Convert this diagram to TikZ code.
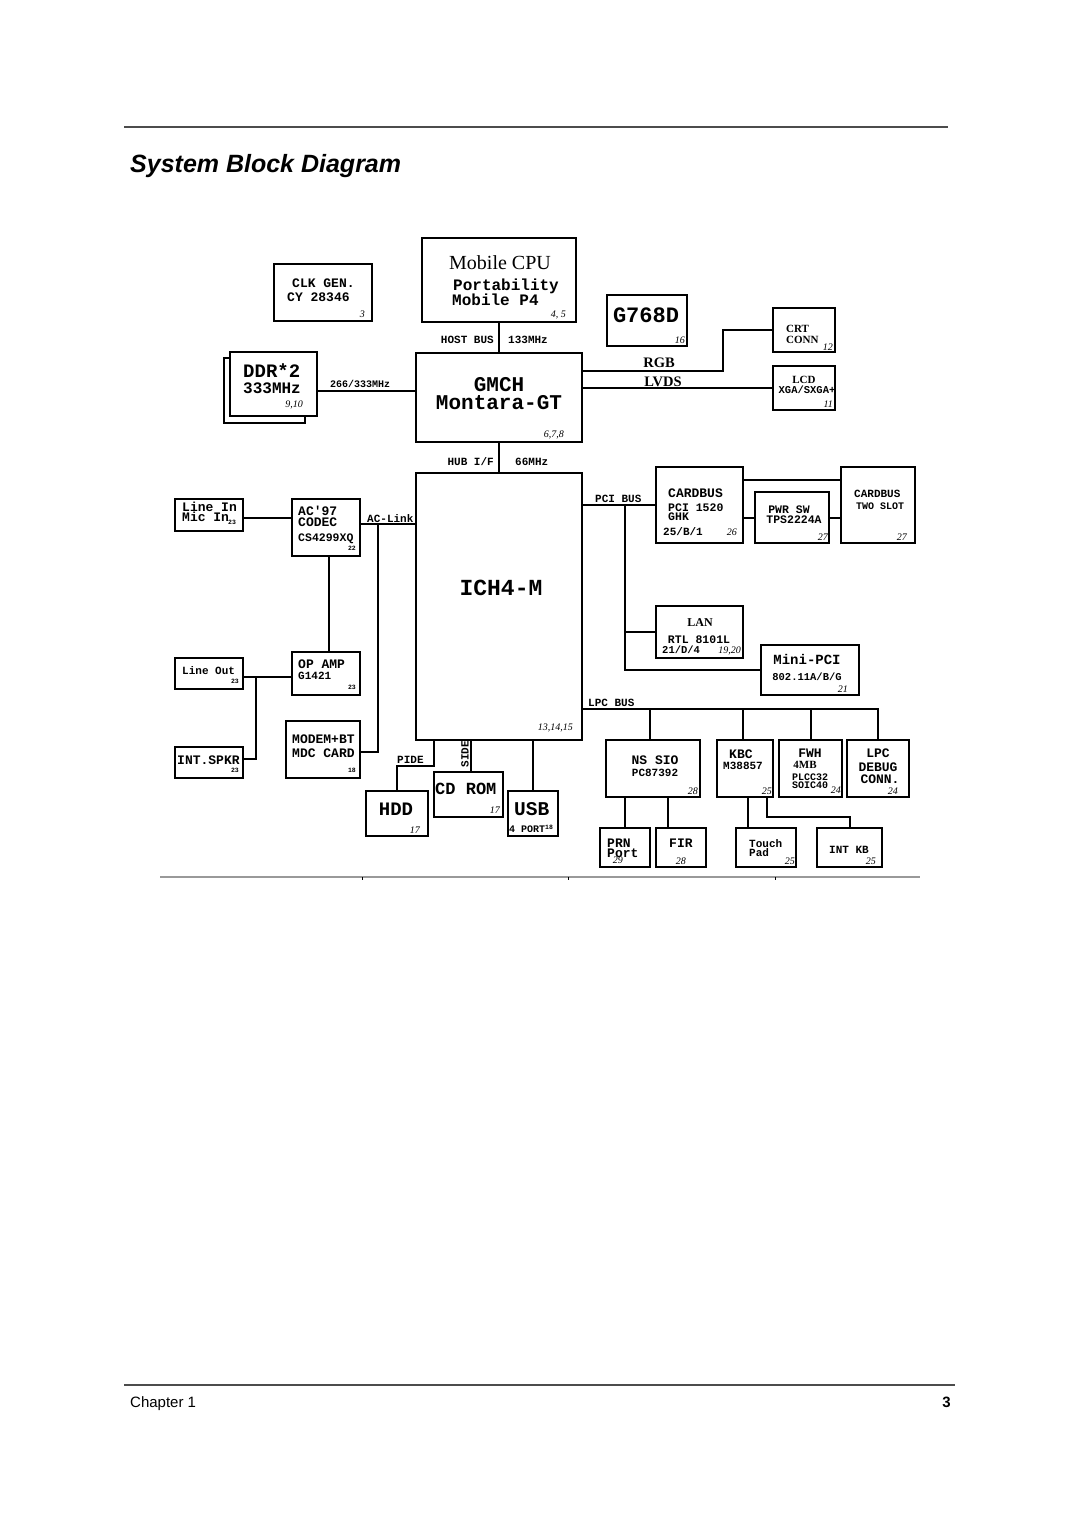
\documentclass[tikz,border=0pt]{standalone}
\usepackage{fontspec}
\setmainfont{Liberation Serif}
\setsansfont{Liberation Sans}
\setmonofont{Liberation Mono}

\begin{document}
\begin{tikzpicture}[x=1pt, y=-1pt,
    blk/.style={rectangle, draw, line width=2pt, fill=white, inner sep=0pt},
    wire/.style={draw, line width=2pt},
    mono/.style={font=\ttfamily\bfseries\fontsize{#1}{#1}\selectfont, inner sep=0pt},
    serifb/.style={font=\rmfamily\bfseries\fontsize{#1}{#1}\selectfont, inner sep=0pt},
    pg/.style={font=\rmfamily\itshape\fontsize{10}{10}\selectfont, inner sep=0pt, anchor=base east},
    subref/.style={font=\ttfamily\bfseries\fontsize{6.5}{6.5}\selectfont, inner sep=0pt, anchor=base east}]
    \fill[white] (0,0) rectangle (1080,1528);
    \useasboundingbox (0,0) rectangle (1080,1528);
    \draw[line width=1.5pt, black!70] (124,127) -- (948,127);
    \node[font=\sffamily\bfseries\itshape\fontsize{25}{25}\selectfont, inner sep=0pt, anchor=base west] (title) at (130,172) {System Block Diagram};
    \draw[line width=1.5pt, black!70] (124,1385) -- (955,1385);
    \node[font=\sffamily\fontsize{15}{15}\selectfont, inner sep=0pt, anchor=base west] (chapter) at (130,1407) {Chapter 1};
    \node[font=\sffamily\bfseries\fontsize{15}{15}\selectfont, inner sep=0pt, anchor=base east] (pageno) at (951,1407) {3};
    \draw[line width=2pt, black!40] (160,877) -- (920,877);
    \foreach \x in {362,568,775} \draw[line width=0.8pt] (\x,877) -- (\x,880);

    \node[blk, minimum width=154, minimum height=84] (cpu) at (499,280) {};
    \node[font=\rmfamily\fontsize{20}{20}\selectfont, inner sep=0pt, anchor=base] (cpu-t1) at (500,269) {Mobile CPU};
    \node[mono=16, anchor=base west] (cpu-t2) at (453,290) {Portability};
    \node[mono=16, anchor=base west] (cpu-t3) at (452,305) {Mobile P4};
    \node[pg] (cpu-pg) at (566,317) {4, 5};

    \node[blk, minimum width=98, minimum height=57] (clk) at (323,292.5) {};
    \node[mono=13, anchor=base west] (clk-t1) at (292,287) {CLK GEN.};
    \node[mono=13, anchor=base west] (clk-t2) at (287,301) {CY 28346};
    \node[pg] (clk-pg) at (365,317) {3};

    \node[blk, minimum width=81, minimum height=65] (ddrback) at (264.5,390.5) {};
    \node[blk, minimum width=87, minimum height=64] (ddr) at (273.5,384) {};
    \node[mono=19, anchor=base west] (ddr-t1) at (243,377) {DDR*2};
    \node[mono=16, anchor=base west] (ddr-t2) at (243,393) {333MHz};
    \node[pg] (ddr-pg) at (303,407) {9,10};

    \node[blk, minimum width=166, minimum height=89] (gmch) at (499,397.5) {};
    \node[mono=21, anchor=base] (gmch-t1) at (499,391) {GMCH};
    \node[mono=21, anchor=base] (gmch-t2) at (499,409) {Montara-GT};
    \node[pg] (gmch-pg) at (564,437) {6,7,8};

    \node[blk, minimum width=80, minimum height=51] (g768) at (647,320.5) {};
    \node[mono=22, anchor=base] (g768-t1) at (646,322) {G768D};
    \node[pg] (g768-pg) at (685,343) {16};

    \node[blk, minimum width=62, minimum height=44] (crt) at (804,330) {};
    \node[serifb=11, anchor=base west] (crt-t1) at (786,332) {CRT};
    \node[serifb=11, anchor=base west] (crt-t2) at (786,343) {CONN};
    \node[pg] (crt-pg) at (833,350) {12};

    \node[blk, minimum width=62, minimum height=44] (lcd) at (804,388) {};
    \node[serifb=11, anchor=base] (lcd-t1) at (804,383) {LCD};
    \node[mono=10.5, anchor=base] (lcd-t2) at (807,393) {XGA/SXGA+};
    \node[pg] (lcd-pg) at (833,407) {11};

    \node[blk, minimum width=166, minimum height=267] (ich) at (499,606.5) {};
    \node[mono=23, anchor=base] (ich-t1) at (501,595) {ICH4-M};
    \node[pg] (ich-pg) at (573,730) {13,14,15};

    \node[blk, minimum width=87, minimum height=76] (cardbus) at (699.5,505) {};
    \node[mono=13, anchor=base west] (cardbus-t1) at (668,497) {CARDBUS};
    \node[mono=11.5, anchor=base west] (cardbus-t2) at (668,511) {PCI 1520};
    \node[mono=11.5, anchor=base west] (cardbus-t3) at (668,520) {GHK};
    \node[mono=11, anchor=base west] (cardbus-t4) at (663,535) {25/B/1};
    \node[pg] (cardbus-pg) at (737,535) {26};

    \node[blk, minimum width=74, minimum height=51] (pwrsw) at (792,517.5) {};
    \node[mono=11.5, anchor=base] (pwrsw-t1) at (789,513) {PWR SW};
    \node[mono=11.5, anchor=base] (pwrsw-t2) at (794,523) {TPS2224A};
    \node[pg] (pwrsw-pg) at (828,540) {27};

    \node[blk, minimum width=74, minimum height=76] (slot) at (878,505) {};
    \node[mono=11, anchor=base west] (slot-t1) at (854,497) {CARDBUS};
    \node[mono=10, anchor=base west] (slot-t2) at (856,509) {TWO SLOT};
    \node[pg] (slot-pg) at (907,540) {27};

    \node[blk, minimum width=87, minimum height=52] (lan) at (699.5,632) {};
    \node[serifb=12, anchor=base] (lan-t1) at (700,626) {LAN};
    \node[mono=11.5, anchor=base] (lan-t2) at (699,643) {RTL 8101L};
    \node[mono=10.5, anchor=base west] (lan-t3) at (662,653) {21/D/4};
    \node[pg] (lan-pg) at (741,653) {19,20};

    \node[blk, minimum width=98, minimum height=50] (minipci) at (810,670) {};
    \node[mono=14, anchor=base] (minipci-t1) at (807,664) {Mini-PCI};
    \node[mono=10.5, anchor=base] (minipci-t2) at (807,680) {802.11A/B/G};
    \node[pg] (minipci-pg) at (848,692) {21};

    \node[blk, minimum width=94, minimum height=57] (sio) at (653,768.5) {};
    \node[mono=13, anchor=base] (sio-t1) at (655,764) {NS SIO};
    \node[mono=11, anchor=base] (sio-t2) at (655,776) {PC87392};
    \node[pg] (sio-pg) at (698,794) {28};

    \node[blk, minimum width=56, minimum height=57] (kbc) at (745,768.5) {};
    \node[mono=13, anchor=base west] (kbc-t1) at (729,758) {KBC};
    \node[mono=11, anchor=base west] (kbc-t2) at (723,769) {M38857};
    \node[pg] (kbc-pg) at (772,794) {25};

    \node[blk, minimum width=63, minimum height=57] (fwh) at (810.5,768.5) {};
    \node[mono=13, anchor=base] (fwh-t1) at (810,757) {FWH};
    \node[serifb=11, anchor=base] (fwh-t2) at (805,768) {4MB};
    \node[mono=10, anchor=base] (fwh-t3) at (810,780) {PLCC32};
    \node[mono=10, anchor=base west] (fwh-t4) at (792,788) {SOIC40};
    \node[pg] (fwh-pg) at (841,793) {24};

    \node[blk, minimum width=62, minimum height=57] (debug) at (878,768.5) {};
    \node[mono=13, anchor=base] (debug-t1) at (878,757) {LPC};
    \node[mono=13, anchor=base] (debug-t2) at (878,771) {DEBUG};
    \node[mono=13, anchor=base] (debug-t3) at (880,783) {CONN.};
    \node[pg] (debug-pg) at (898,794) {24};

    \node[blk, minimum width=50, minimum height=39] (prn) at (625,847.5) {};
    \node[mono=13, anchor=base west] (prn-t1) at (607,847) {PRN};
    \node[mono=13, anchor=base west] (prn-t2) at (607,857) {Port};
    \node[pg] (prn-pg) at (623,863) {29};

    \node[blk, minimum width=50, minimum height=39] (fir) at (681,847.5) {};
    \node[mono=13, anchor=base west] (fir-t1) at (669,847) {FIR};
    \node[pg] (fir-pg) at (686,864) {28};

    \node[blk, minimum width=60, minimum height=39] (touch) at (766,847.5) {};
    \node[mono=11, anchor=base west] (touch-t1) at (749,847) {Touch};
    \node[mono=11, anchor=base west] (touch-t2) at (749,856) {Pad};
    \node[pg] (touch-pg) at (795,864) {25};

    \node[blk, minimum width=65, minimum height=39] (intkb) at (849.5,847.5) {};
    \node[mono=11, anchor=base] (intkb-t1) at (849,853) {INT KB};
    \node[pg] (intkb-pg) at (876,864) {25};

    \node[blk, minimum width=68, minimum height=32] (linein) at (209,515) {};
    \node[mono=13, anchor=base west] (linein-t1) at (182,511) {Line In};
    \node[mono=13, anchor=base west] (linein-t2) at (182,521) {Mic In};
    \node[subref, anchor=base west] (linein-pg) at (228,524) {23};

    \node[blk, minimum width=68, minimum height=57] (codec) at (326,527.5) {};
    \node[mono=13, anchor=base west] (codec-t1) at (298,515) {AC'97};
    \node[mono=13, anchor=base west] (codec-t2) at (298,526) {CODEC};
    \node[mono=11.5, anchor=base west] (codec-t3) at (298,541) {CS4299XQ};
    \node[subref] (codec-pg) at (356,550) {22};

    \node[blk, minimum width=68, minimum height=31] (lineout) at (209,673.5) {};
    \node[mono=11, anchor=base west] (lineout-t1) at (182,674) {Line Out};
    \node[subref] (lineout-pg) at (239,683) {23};

    \node[blk, minimum width=68, minimum height=43] (opamp) at (326,673.5) {};
    \node[mono=13, anchor=base west] (opamp-t1) at (298,668) {OP AMP};
    \node[mono=11, anchor=base west] (opamp-t2) at (298,679) {G1421};
    \node[subref] (opamp-pg) at (356,689) {23};

    \node[blk, minimum width=68, minimum height=31] (spkr) at (209,762.5) {};
    \node[mono=13, anchor=base west] (spkr-t1) at (177,764) {INT.SPKR};
    \node[subref] (spkr-pg) at (239,772) {23};

    \node[blk, minimum width=74, minimum height=57] (modem) at (323,749.5) {};
    \node[mono=13, anchor=base west] (modem-t1) at (292,743) {MODEM+BT};
    \node[mono=13, anchor=base west] (modem-t2) at (292,757) {MDC CARD};
    \node[subref] (modem-pg) at (356,772) {18};

    \node[blk, minimum width=62, minimum height=45] (hdd) at (397,813.5) {};
    \node[mono=19, anchor=base] (hdd-t1) at (396,815) {HDD};
    \node[pg] (hdd-pg) at (420,833) {17};

    \node[blk, minimum width=69, minimum height=45] (cdrom) at (468.5,794.5) {};
    \node[mono=17, anchor=base west] (cdrom-t1) at (435,794) {CD ROM};
    \node[pg] (cdrom-pg) at (500,813) {17};

    \node[blk, minimum width=50, minimum height=45] (usb) at (533,813.5) {};
    \node[mono=19.5, anchor=base west] (usb-t1) at (514,815) {USB};
    \node[mono=10, anchor=base west] (usb-t2) at (509,832) {4 PORT\raisebox{3pt}{\fontsize{6.5}{6.5}\selectfont 18}};

    \path[wire] (cpu.south) -- (gmch.north);
    \node[mono=11, anchor=base east] (hostbus) at (494,343) {HOST BUS};
    \node[mono=11, anchor=base west] (hostclk) at (508,343) {133MHz};
    \path[wire] (gmch.south) -- (ich.north);
    \node[mono=11, anchor=base east] (hubif) at (494,465) {HUB I/F};
    \node[mono=11, anchor=base west] (hubclk) at (515,465) {66MHz};
    \path[wire] ([yshift=-7pt]ddr.east) -- ([yshift=-7pt]ddr.east -| gmch.west);
    \node[mono=10, anchor=base] (ddrclk) at (360,387) {266/333MHz};

    \coordinate (rgbbend) at (723,371);
    \path[wire] (gmch.east |- rgbbend) -- (rgbbend) |- (crt.west);
    \path[wire] (gmch.east |- lcd.west) -- (lcd.west);
    \node[serifb=14.5, anchor=base] (rgb) at (659,367) {RGB};
    \node[serifb=14.5, anchor=base] (lvds) at (663,386) {LVDS};

    \coordinate (pcitap) at (625,505);
    \coordinate (cbtop) at (790,480);
    \path[wire] (ich.east |- cardbus.west) -- (cardbus.west);
    \path[wire] (pcitap) |- (minipci.west);
    \path[wire] (pcitap |- lan.west) -- (lan.west);
    \path[wire] (cardbus.east |- cbtop) -- (slot.west |- cbtop);
    \path[wire] (cardbus.east |- pwrsw.west) -- (pwrsw.west);
    \path[wire] (pwrsw.east) -- (slot.west |- pwrsw.east);
    \node[mono=11, anchor=base west] (pcibus) at (595,502) {PCI BUS};

    \coordinate (lpcend) at (878,709);
    \path[wire] (ich.east |- lpcend) -- (lpcend) -- (debug.north);
    \path[wire] ([xshift=-3pt]sio.north |- lpcend) -- ([xshift=-3pt]sio.north);
    \path[wire] ([xshift=-2pt]kbc.north |- lpcend) -- ([xshift=-2pt]kbc.north);
    \path[wire] (fwh.north |- lpcend) -- (fwh.north);
    \node[mono=11, anchor=base west] (lpcbus) at (588,706) {LPC BUS};
    \path[wire] (sio.south -| prn.north) -- (prn.north);
    \path[wire] ([xshift=15pt]sio.south) -- ([xshift=15pt]sio.south |- fir.north);
    \path[wire] ([xshift=3pt]kbc.south) -- ([xshift=3pt]kbc.south |- touch.north);
    \coordinate (kbbend) at (767,817);
    \path[wire] (kbc.south -| kbbend) -- (kbbend) -| (intkb.north);

    \coordinate (acjoint) at (378,524);
    \coordinate (spkjoint) at (256,677);
    \path[wire] ([yshift=-3pt]linein.east) -- ([yshift=-3pt]linein.east -| codec.west);
    \path[wire] (codec.east |- acjoint) -- (ich.west |- acjoint);
    \path[wire] (acjoint) |- ([yshift=-2.5pt]modem.east);
    \node[mono=11, anchor=base west] (aclink) at (367,522) {AC-Link};
    \path[wire] ([xshift=3pt]codec.south) -- ([xshift=3pt]opamp.north);
    \path[wire] ([yshift=-3.5pt]lineout.east) -- ([yshift=-3.5pt]lineout.east -| opamp.west);
    \path[wire] (spkjoint) |- ([yshift=4pt]spkr.east);

    \coordinate (pidebend) at (434,766);
    \path[wire] (ich.south -| pidebend) -- (pidebend) -| (hdd.north);
    \node[mono=11, anchor=base west] (pide) at (397,763) {PIDE};
    \path[wire] ([xshift=2.5pt]cdrom.north) -- ([xshift=2.5pt]cdrom.north |- ich.south);
    \node[mono=11, rotate=90] (side) at (465,754) {SIDE};
    \path[wire] (usb.north) -- (usb.north |- ich.south);
\end{tikzpicture}
\end{document}
